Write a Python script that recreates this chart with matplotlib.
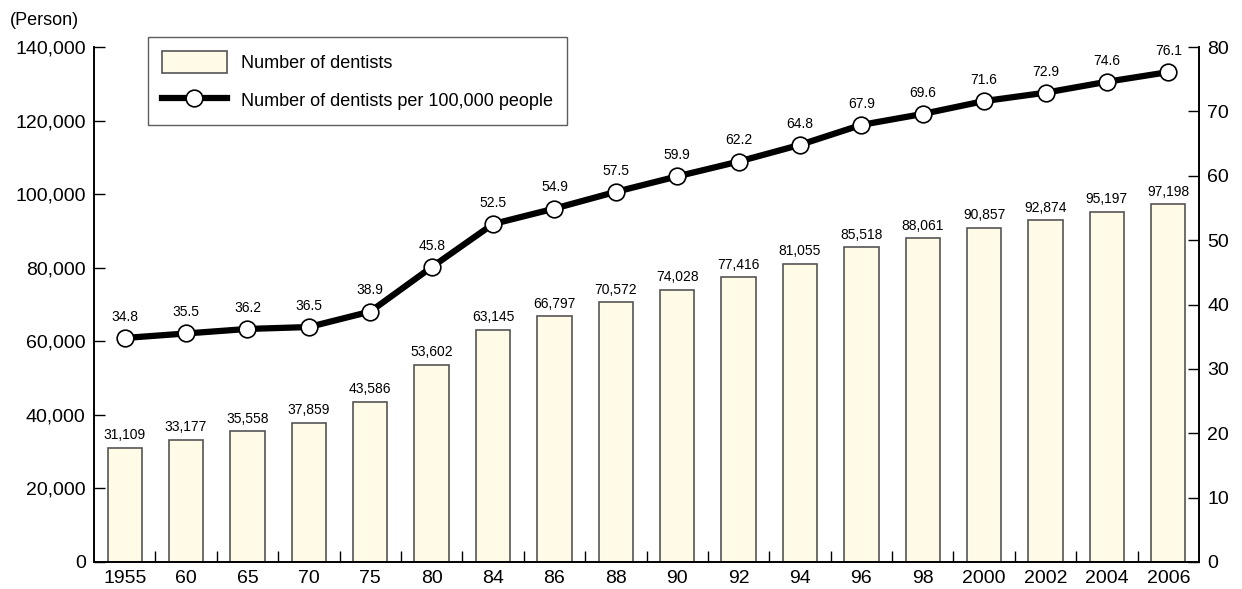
import numpy as np
import matplotlib

matplotlib.use("agg")
import matplotlib.pyplot as plt
from matplotlib.ticker import FuncFormatter

plt.rcParams["font.family"] = ["Liberation Sans", "DejaVu Sans"]

years = ["1955", "60", "65", "70", "75", "80", "84", "86", "88", "90",
         "92", "94", "96", "98", "2000", "2002", "2004", "2006"]
dentists = [31109, 33177, 35558, 37859, 43586, 53602, 63145, 66797, 70572,
            74028, 77416, 81055, 85518, 88061, 90857, 92874, 95197, 97198]
per_100k = [34.8, 35.5, 36.2, 36.5, 38.9, 45.8, 52.5, 54.9, 57.5, 59.9,
            62.2, 64.8, 67.9, 69.6, 71.6, 72.9, 74.6, 76.1]

fig = plt.figure(figsize=(12.42, 5.89), dpi=100)
ax1 = fig.add_axes([94 / 1242, 1 - 562 / 589, 1105 / 1242, 515 / 589])
ax2 = ax1.twinx()

x = np.arange(len(years))
bars = ax1.bar(x, dentists, width=0.56, color="#fffbe6", edgecolor="#555555",
               lw=1.2, label="Number of dentists", zorder=2)
for xi, v in zip(x, dentists):
    ax1.text(xi, v + 1500, f"{v:,}", ha="center", va="bottom", fontsize=10)

line, = ax2.plot(x, per_100k, color="black", lw=4.5, marker="o", ms=12,
                 mfc="white", mec="black", mew=1.2,
                 label="Number of dentists per 100,000 people", zorder=3)
for xi, v in zip(x, per_100k):
    ax2.text(xi, v + 2.2, f"{v}", ha="center", va="bottom", fontsize=10)

ax1.set_xlim(-0.5, len(years) - 0.5)
ax1.set_ylim(0, 140000)
ax2.set_ylim(0, 80)
ax1.set_yticks(range(0, 140001, 20000))
ax2.set_yticks(range(0, 81, 10))
ax1.yaxis.set_major_formatter(FuncFormatter(lambda v, p: f"{int(v):,}"))

ax1.set_xticks(x)
ax1.set_xticklabels(years)
ax1.set_xticks(np.arange(0.5, len(years) - 1, 1), minor=True)
ax1.tick_params(axis="x", which="major", length=0, labelsize=14, pad=6)
ax1.tick_params(axis="x", which="minor", direction="in", length=8, width=1)
ax1.tick_params(axis="y", direction="in", length=8, width=1, labelsize=14, pad=6)
ax2.tick_params(axis="y", direction="in", length=8, width=1, labelsize=14, pad=6)

for a in (ax1, ax2):
    a.spines["top"].set_visible(False)
    for s in a.spines.values():
        s.set_linewidth(1.2)

ax1.text(-0.076, 1.035, "(Person)", transform=ax1.transAxes, fontsize=13,
         ha="left", va="bottom")

leg = ax1.legend(handles=[bars, line], loc="upper left",
                 bbox_to_anchor=(0.049, 1.019), borderaxespad=0, fontsize=13,
                 frameon=True, fancybox=False, edgecolor="#333333",
                 handlelength=3.6, borderpad=0.75, labelspacing=0.9,
                 handleheight=1.5)
leg.get_frame().set_linewidth(1.0)

fig.savefig("out.png", dpi=100)
